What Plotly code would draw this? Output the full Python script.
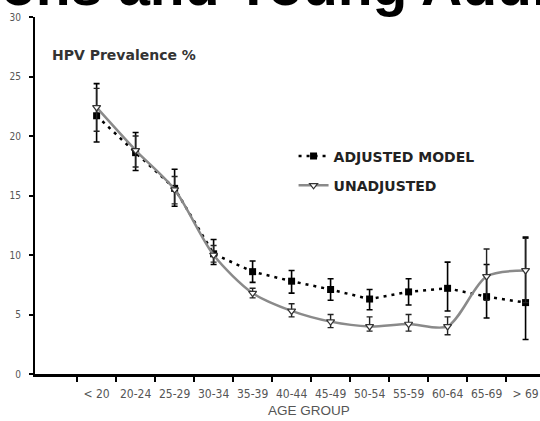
import plotly.graph_objects as go

# Age groups along the x axis
categories = ["< 20", "20-24", "25-29", "30-34", "35-39", "40-44",
              "45-49", "50-54", "55-59", "60-64", "65-69", "> 69"]

# Adjusted model: prevalence (%) with lower / upper confidence limits
adjusted = [21.7, 18.6, 15.6, 10.1, 8.6, 7.8, 7.1, 6.3, 6.9, 7.2, 6.5, 6.0]
adjusted_upper = [24.4, 20.3, 17.2, 11.3, 9.5, 8.7, 8.0, 7.1, 8.0, 9.4, 9.2, 11.5]
adjusted_lower = [19.5, 17.1, 14.1, 9.2, 7.7, 6.8, 6.2, 5.4, 5.8, 5.3, 4.7, 2.9]

# Unadjusted estimates with lower / upper confidence limits
unadjusted = [22.4, 18.8, 15.5, 10.0, 6.8, 5.3, 4.4, 4.0, 4.2, 4.0, 8.2, 8.7]
unadjusted_upper = [24.0, 20.0, 16.6, 10.8, 7.2, 5.9, 5.0, 4.8, 5.0, 4.8, 10.5, 11.4]
unadjusted_lower = [20.4, 17.4, 14.3, 9.4, 6.4, 4.8, 3.9, 3.6, 3.6, 3.3, 6.2, 6.0]

y_ticks = [0, 5, 10, 15, 20, 25, 30]

x_pos = list(range(len(categories)))
# tick marks sit between the age groups
boundaries = [i - 0.5 for i in x_pos]

tick_font = dict(family="Liberation Sans Narrow, DejaVu Sans Condensed, Arial Narrow, sans-serif",
                 size=12, color="#555555")

fig = go.Figure()

fig.add_trace(go.Scatter(
    x=x_pos, y=adjusted, name="ADJUSTED MODEL", legendgroup="adj",
    mode="lines+markers",
    line=dict(color="black", width=2.5, dash="3px,5px"),
    marker=dict(symbol="square", size=7, color="black"),
    error_y=dict(type="data", symmetric=False,
                 array=[u - v for u, v in zip(adjusted_upper, adjusted)],
                 arrayminus=[v - l for v, l in zip(adjusted, adjusted_lower)],
                 color="black", thickness=1.6, width=3),
))

fig.add_trace(go.Scatter(
    x=x_pos, y=unadjusted, name="UNADJUSTED", legendgroup="unadj",
    mode="lines+markers",
    line=dict(color="#8a8a8a", width=2.5, shape="spline", smoothing=0.8),
    marker=dict(symbol="triangle-down", size=7, color="white",
                line=dict(color="#333333", width=1.2)),
    error_y=dict(type="data", symmetric=False,
                 array=[u - v for u, v in zip(unadjusted_upper, unadjusted)],
                 arrayminus=[v - l for v, l in zip(unadjusted, unadjusted_lower)],
                 color="#222222", thickness=1.4, width=3),
))

fig.update_layout(
    width=540, height=421,
    margin=dict(l=35, r=0, t=17, b=47),
    paper_bgcolor="white", plot_bgcolor="white",
    showlegend=True,
    legend=dict(x=0.512, y=0.654, xanchor="left", yanchor="top",
                bgcolor="rgba(0,0,0,0)", tracegroupgap=8,
                font=dict(family="DejaVu Sans", size=14, color="#222222",
                          weight="bold")),
    xaxis=dict(
        range=[-1.58, 11.37],
        tickmode="array", tickvals=x_pos, ticktext=categories,
        ticks="", tickfont=tick_font, ticklabelstandoff=7,
        showline=True, linecolor="black", linewidth=2.5,
        showgrid=False, zeroline=False,
        minor=dict(tickmode="array", tickvals=boundaries, ticks="outside",
                   ticklen=5, tickwidth=1.5, tickcolor="black", showgrid=False),
    ),
    yaxis=dict(
        range=[0, 30],
        tickmode="array", tickvals=y_ticks,
        ticks="outside", ticklen=4, tickwidth=1.5, tickcolor="black",
        tickfont=dict(family="Liberation Sans Narrow, DejaVu Sans Condensed, sans-serif",
                      size=10, color="#555555"),
        ticklabelstandoff=6,
        showline=True, linecolor="black", linewidth=2,
        showgrid=False, zeroline=False,
    ),
)

# Heading (clipped along the top edge of the page)
fig.add_annotation(
    text="ons and Young Adults", xref="paper", yref="paper",
    x=-36 / 505, y=1 - 2 / 357, xanchor="left", yanchor="bottom",
    showarrow=False,
    font=dict(family="Liberation Sans", size=57, color="black", weight="bold"),
)

# Y-axis caption
fig.add_annotation(
    text="HPV Prevalence %", xref="paper", yref="paper",
    x=15 / 505, y=(374 - 55) / 357, xanchor="left", yanchor="middle",
    showarrow=False,
    font=dict(family="DejaVu Sans", size=14, color="#333333", weight="bold"),
)

# X-axis caption
fig.add_annotation(
    text="AGE GROUP", xref="paper", yref="paper",
    x=(309 - 35) / 505, y=-(410 - 374) / 357, xanchor="center", yanchor="middle",
    showarrow=False,
    font=dict(family="Liberation Sans", size=13.5, color="#555555"),
)

fig.write_html("out.html")
